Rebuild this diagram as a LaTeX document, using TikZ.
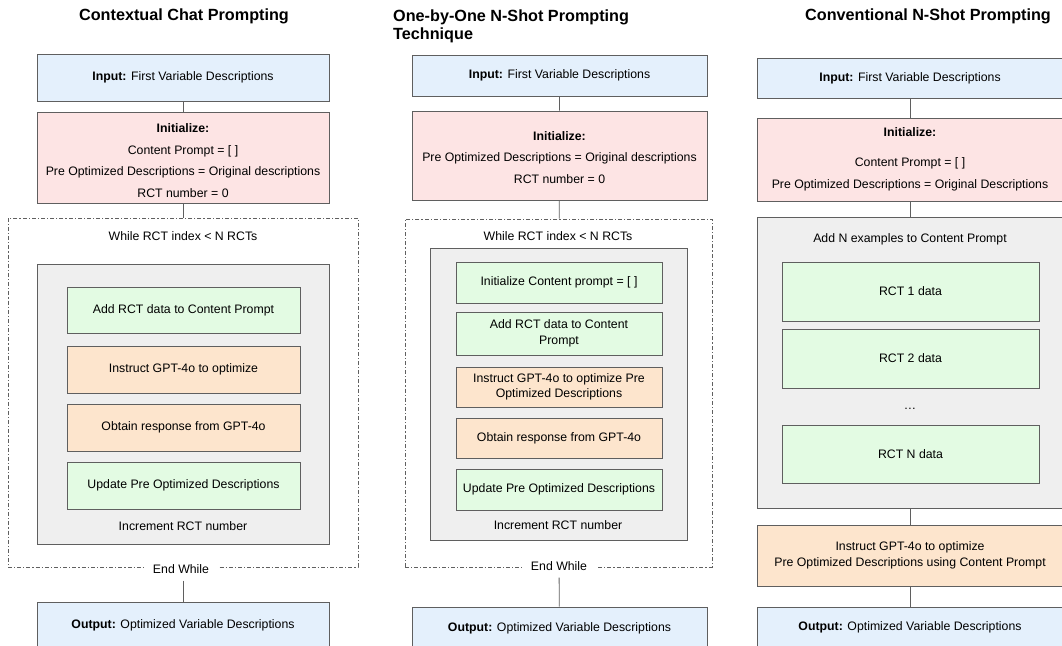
\documentclass[tikz,border=0pt]{standalone}
\usepackage{fontspec}
\setmainfont{Liberation Sans}
\usepackage{tikz}

\definecolor{boxline}{HTML}{5F5F5F}
\definecolor{iofill}{HTML}{E4F0FC}
\definecolor{initfill}{HTML}{FDE4E4}
\definecolor{greenfill}{HTML}{E3FBE3}
\definecolor{gptfill}{HTML}{FDE5CD}
\definecolor{loopfill}{HTML}{EFEFEF}
\definecolor{dashline}{HTML}{606060}

\tikzset{
  box/.style={draw=boxline, line width=0.8pt, inner sep=0pt, align=center,
    font=\fontsize{12.3}{15.5}\selectfont},
  wh/.style 2 args={minimum width=#1pt, minimum height=#2pt},
  iobox/.style={box, fill=iofill},
  initbox/.style={box, fill=initfill, font=\fontsize{12.3}{21.7}\selectfont},
  greenbox/.style={box, fill=greenfill},
  gptbox/.style={box, fill=gptfill},
  loopbox/.style={box, fill=loopfill},
  whilebox/.style={draw=dashline, line width=0.9pt,
    dash pattern=on 4pt off 2pt on 1.2pt off 2pt, inner sep=0pt},
  plain/.style={font=\fontsize{12.3}{15}\selectfont, inner sep=0pt},
  endlabel/.style={plain, fill=white, inner xsep=9pt, inner ysep=7pt},
  title/.style={font=\fontsize{16.2}{18}\selectfont\bfseries, inner sep=0pt},
  conn/.style={draw=boxline, line width=0.8pt}
}

\begin{document}
\begin{tikzpicture}[x=1pt, y=-1pt]
        \useasboundingbox (0,0) rectangle (1062,645);
        % titles
        \node[title] (t1) at (184,16) {Contextual Chat Prompting};
        \node[title, anchor=north west, align=left] (t2) at (393,10) {One-by-One N-Shot Prompting\\Technique};
        \node[title] (t3) at (928,16) {Conventional N-Shot Prompting};

        % contextual chat prompting
        \node[iobox, wh={292}{47}] (in1) at (183,77.5) {\textbf{Input:} First Variable Descriptions};
        \node[initbox, wh={292}{91}] (init1) at (183,157.5) {\rule{0pt}{15pt}\textbf{Initialize:}\\Content Prompt = [ ]\\Pre Optimized Descriptions = Original descriptions\\RCT number = 0};
        \node[whilebox, wh={350}{349}] (while1) at (183,392.5) {};
        \node[plain] (cond1) at (183,236) {While RCT index < N RCTs};
        \node[loopbox, wh={292}{280}] (loop1) at (183,404) {};
        \node[greenbox, wh={233}{46}] (add1) at (183.5,310) {Add RCT data to Content Prompt};
        \node[gptbox, wh={233}{47}] (ins1) at (183.5,369.5) {Instruct GPT-4o to optimize};
        \node[gptbox, wh={233}{47}] (obt1) at (183.5,427.5) {Obtain response from GPT-4o};
        \node[greenbox, wh={233}{47}] (upd1) at (183.5,485.5) {Update Pre Optimized Descriptions};
        \node[plain] (inc1) at (183,526) {Increment RCT number};
        \node[endlabel] (end1) at (181,569) {End While};
        \node[iobox, wh={292}{47}] (out1) at (183,625.5) {\textbf{Output:} Optimized Variable Descriptions};
        \draw[conn] (in1) -- (init1)
              (init1) -- (while1)
              (end1.south -| out1) -- (out1);

        % one-by-one n-shot prompting
        \node[iobox, wh={295}{41}] (in2) at (559.5,75.5) {\textbf{Input:} First Variable Descriptions};
        \node[initbox, wh={295}{89}] (init2) at (559.5,155.5) {\rule{0pt}{13pt}\textbf{Initialize:}\\Pre Optimized Descriptions = Original descriptions\\RCT number = 0};
        \node[whilebox, wh={307}{348}] (while2) at (558.5,393) {};
        \node[plain] (cond2) at (558,236) {While RCT index < N RCTs};
        \node[loopbox, wh={257}{292}] (loop2) at (558.5,394) {};
        \node[greenbox, wh={206}{41}] (ini2) at (559,282.5) {Initialize Content prompt = [ ]};
        \node[greenbox, wh={206}{43}] (add2) at (559,333.5) {Add RCT data to Content\\Prompt};
        \node[gptbox, wh={206}{40}] (ins2) at (559,387) {Instruct GPT-4o to optimize Pre\\Optimized Descriptions};
        \node[gptbox, wh={206}{40}] (obt2) at (559,438) {Obtain response from GPT-4o};
        \node[greenbox, wh={206}{41}] (upd2) at (559,489.5) {Update Pre Optimized Descriptions};
        \node[plain] (inc2) at (558,525) {Increment RCT number};
        \node[endlabel] (end2) at (559,566) {End While};
        \node[iobox, wh={295}{42}] (out2) at (559.5,628) {\textbf{Output:} Optimized Variable Descriptions};
        \draw[conn] (in2) -- (init2)
              (init2) -- (while2)
              (end2) -- (out2);

        % conventional n-shot prompting
        \node[iobox, wh={306}{40}] (in3) at (910,78) {\textbf{Input:} First Variable Descriptions};
        \node[initbox, wh={306}{83}] (init3) at (910,159.5) {\textbf{Initialize:}\\[8pt]Content Prompt = [ ]\\Pre Optimized Descriptions = Original Descriptions};
        \node[loopbox, wh={306}{291}] (loop3) at (910,362.5) {};
        \node[plain] (add3) at (910,239) {Add N examples to Content Prompt};
        \node[greenbox, wh={257}{59}] (rct1) at (910.5,291.5) {RCT 1 data};
        \node[greenbox, wh={257}{59}] (rct2) at (910.5,358.5) {RCT 2 data};
        \node[plain] (dots) at (910,409) {\dots};
        \node[greenbox, wh={257}{58}] (rctn) at (910.5,454) {RCT N data};
        \node[gptbox, wh={306}{61}] (ins3) at (910,555.5) {Instruct GPT-4o to optimize\\Pre Optimized Descriptions using Content Prompt};
        \node[iobox, wh={306}{40}] (out3) at (910,627) {\textbf{Output:} Optimized Variable Descriptions};
        \draw[conn] (in3) -- (init3)
              (init3) -- (loop3)
              (loop3) -- (ins3)
              (ins3) -- (out3);
\end{tikzpicture}
\end{document}
